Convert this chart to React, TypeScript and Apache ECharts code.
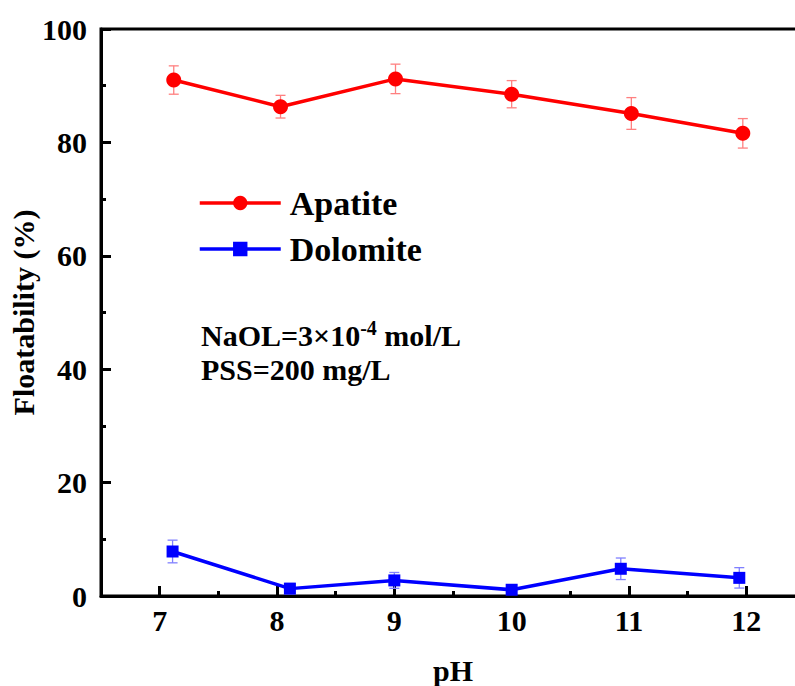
import React, { useEffect, useRef } from "react";
import * as echarts from "echarts";

const phApatite = [7.12, 8.03, 9.01, 10.0, 11.02, 11.97];
const apatite = [91.0, 86.3, 91.2, 88.5, 85.1, 81.6];
const apatiteErr = [2.5, 2.0, 2.6, 2.4, 2.8, 2.6];

const phDolomite = [7.11, 8.11, 9.0, 10.0, 10.93, 11.94];
const dolomite = [7.85, 1.3, 2.75, 1.1, 4.8, 3.2];
const dolomiteErr = [2.0, 0.9, 1.4, 0.7, 1.9, 1.8];

const xMajorTicks = [7, 8, 9, 10, 11, 12];
const xMinorTicks = [7.5, 8.5, 9.5, 10.5, 11.5];
const seriesNames = ["Apatite", "Dolomite"];

const FONT = "Times New Roman, serif";

function errorSeries(xs: number[], ys: number[], es: number[], color: string) {
  return {
    type: "custom",
    z: 1,
    encode: { x: 0, y: 1 },
    data: xs.map((x, i) => [x, ys[i], es[i]]),
    renderItem: (params: any, api: any) => {
      const x = api.value(0);
      const y = api.value(1);
      const e = api.value(2);
      const top = api.coord([x, y + e]);
      const bot = api.coord([x, y - e]);
      const hw = 5;
      const style = { stroke: color, lineWidth: 1.3 };
      return {
        type: "group",
        children: [
          { type: "line", shape: { x1: top[0], y1: top[1], x2: bot[0], y2: bot[1] }, style },
          { type: "line", shape: { x1: top[0] - hw, y1: top[1], x2: top[0] + hw, y2: top[1] }, style },
          { type: "line", shape: { x1: bot[0] - hw, y1: bot[1], x2: bot[0] + hw, y2: bot[1] }, style },
        ],
      };
    },
  };
}

export default function App() {
  const ref = useRef<HTMLDivElement>(null);
  useEffect(() => {
    if (!ref.current) return;
    const chart = echarts.init(ref.current, null, { renderer: "svg" });
    const labelStyle = { fontFamily: FONT, fontWeight: "bold", fontSize: 30, color: "#000" };
    chart.setOption({
      animation: false,
      backgroundColor: "#fff",
      grid: {
        left: 101,
        right: 7,
        top: 29,
        bottom: 90,
        containLabel: false,
        outerBoundsMode: "none",
        show: true,
        borderColor: "#000",
        borderWidth: 3,
      },
      legend: {
        data: seriesNames,
        orient: "vertical",
        left: 193,
        top: 181,
        itemWidth: 81,
        itemHeight: 18,
        itemGap: 12,
        lineStyle: { width: 3.5 },
        textStyle: { fontFamily: FONT, fontWeight: "bold", fontSize: 34, color: "#000", padding: [0, 0, 0, 4] },
      },
      xAxis: [
        {
          type: "value",
          min: 6.5,
          max: 12.5,
          name: "pH",
          nameLocation: "middle",
          nameGap: 59,
          nameMoveOverlap: false,
          nameTextStyle: labelStyle,
          axisLine: { lineStyle: { color: "#000", width: 3 } },
          axisTick: { inside: true, length: 10, customValues: xMajorTicks, lineStyle: { width: 3, color: "#000" } },
          axisLabel: { ...labelStyle, margin: 9, customValues: xMajorTicks },
          splitLine: { show: false },
        },
        {
          type: "value",
          min: 6.5,
          max: 12.5,
          position: "bottom",
          axisLine: { show: false },
          axisTick: { inside: true, length: 5, customValues: xMinorTicks, lineStyle: { width: 3, color: "#000" } },
          axisLabel: { show: false },
          splitLine: { show: false },
        },
      ],
      yAxis: {
        type: "value",
        min: 0,
        max: 100,
        interval: 20,
        name: "Floatability (%)",
        nameLocation: "middle",
        nameGap: 63,
        nameMoveOverlap: false,
        nameTextStyle: labelStyle,
        axisLine: { lineStyle: { color: "#000", width: 3 } },
        axisTick: { inside: true, length: 10, lineStyle: { width: 3, color: "#000" } },
        minorTick: { show: true, splitNumber: 2, length: 5, lineStyle: { width: 3, color: "#000" } },
        axisLabel: { ...labelStyle, margin: 14 },
        splitLine: { show: false },
      },
      series: [
        errorSeries(phApatite, apatite, apatiteErr, "#ff8080"),
        errorSeries(phDolomite, dolomite, dolomiteErr, "#8080ff"),
        {
          name: seriesNames[0],
          type: "line",
          z: 3,
          data: phApatite.map((x, i) => [x, apatite[i]]),
          symbol: "circle",
          symbolSize: 15,
          itemStyle: { color: "#ff0000" },
          lineStyle: { color: "#ff0000", width: 3.5 },
        },
        {
          name: seriesNames[1],
          type: "line",
          z: 3,
          data: phDolomite.map((x, i) => [x, dolomite[i]]),
          symbol: "rect",
          symbolSize: 12,
          itemStyle: { color: "#0000ff" },
          lineStyle: { color: "#0000ff", width: 3.5 },
        },
      ],
      graphic: [
        {
          type: "text",
          left: 201,
          top: 318,
          style: {
            text: "{n|NaOL=3×10}{s|-4}{n| mol/L}",
            rich: {
              n: { fontFamily: FONT, fontWeight: "bold", fontSize: 30, fill: "#000" },
              s: { fontFamily: FONT, fontWeight: "bold", fontSize: 20, fill: "#000", verticalAlign: "top", padding: [0, 0, 14, 0] },
            },
          },
        },
        {
          type: "text",
          left: 201,
          top: 354,
          style: { text: "PSS=200 mg/L", fontFamily: FONT, fontWeight: "bold", fontSize: 30, fill: "#000" },
        },
      ],
    });
    return () => chart.dispose();
  }, []);
  return (
    <div style={{ position: "fixed", left: 0, top: 0, width: 795, height: 686, overflow: "hidden", background: "#fff" }}>
      <div ref={ref} style={{ width: 812, height: 686 }} />
    </div>
  );
}
